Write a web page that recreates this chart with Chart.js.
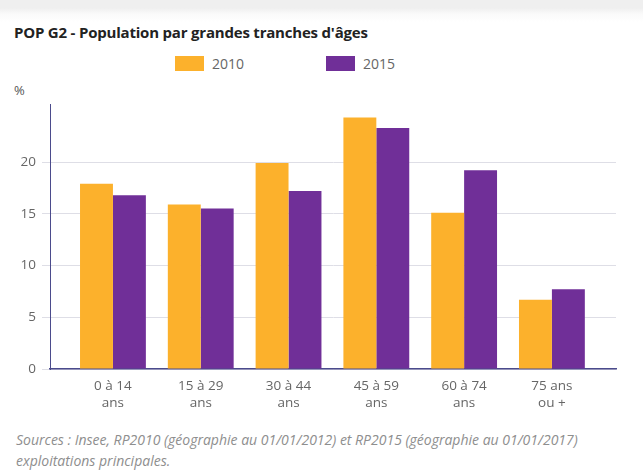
<!DOCTYPE html>
<html lang="fr">
<head>
<meta charset="utf-8">
<script src="https://cdn.jsdelivr.net/npm/chart.js@4/dist/chart.umd.min.js"></script>
<style>
    html, body {
        margin: 0;
        padding: 0;
        width: 643px;
        height: 475px;
        background: #fff;
        font-family: "Open Sans", sans-serif;
        overflow: hidden;
    }
    .top-band {
        position: absolute;
        left: 0; top: 0;
        width: 643px; height: 22px;
        background: linear-gradient(#efefef 0, #efefef 8px, #fafafa 14px, #fff 22px);
    }
    .titre {
        position: absolute;
        left: 14px; top: 22px;
        font-size: 15px;
        font-weight: 700;
        letter-spacing: -0.2px;
        color: #222;
        white-space: nowrap;
    }
    .legende {
        position: absolute;
        top: 54px;
        display: flex;
        align-items: center;
        font-size: 14px;
        color: #666;
    }
    .legende .boite {
        width: 29px; height: 15px;
        margin-right: 8px;
    }
    .unite {
        position: absolute;
        left: 14px; top: 81px;
        font-size: 13px;
        color: #555;
    }
    .sources {
        position: absolute;
        left: 16px; top: 429px;
        font-size: 14px;
        font-style: italic;
        line-height: 21px;
        color: #8e8e8e;
        white-space: nowrap;
    }
    #chartWrap {
        position: absolute;
        left: 0; top: 90px;
        width: 643px; height: 335px;
    }
</style>
</head>
<body>
<div class="top-band"></div>
<div class="titre">POP G2 - Population par grandes tranches d'âges</div>
<div class="legende" style="left:175px"><div class="boite" style="background:#fcb12c"></div>2010</div>
<div class="legende" style="left:326px"><div class="boite" style="background:#702f98"></div>2015</div>
<div class="unite">%</div>
<div id="chartWrap"><canvas id="popChart"></canvas></div>
<div class="sources">Sources : Insee, RP2010 (géographie au 01/01/2012) et RP2015 (géographie au 01/01/2017)<br>exploitations principales.</div>

<script>
// Tranches d'âges (libellés sur deux lignes)
const tranches = [
    ['0 à 14', 'ans'],
    ['15 à 29', 'ans'],
    ['30 à 44', 'ans'],
    ['45 à 59', 'ans'],
    ['60 à 74', 'ans'],
    ['75 ans', 'ou +']
];

// Part de la population (%)
const pop2010 = [17.9, 15.9, 19.9, 24.3, 15.1, 6.7];
const pop2015 = [16.8, 15.5, 17.2, 23.3, 19.2, 7.7];

// Graduations de l'axe vertical
const yTicks = [0, 5, 10, 15, 20];

const orange = '#fcb12c';
const violet = '#702f98';
const axisColor = '#4b4b8c';

// Points {x, y} pour une échelle linéaire sur l'axe des catégories
function toPoints(values) {
    return values.map((v, i) => ({ x: i, y: v }));
}

function initChart() {
    const ctx = document.getElementById('popChart').getContext('2d');
    new Chart(ctx, {
        type: 'bar',
        data: {
            datasets: [
                {
                    label: '2010',
                    data: toPoints(pop2010),
                    backgroundColor: orange,
                    categoryPercentage: 0.75,
                    barPercentage: 1.0
                },
                {
                    label: '2015',
                    data: toPoints(pop2015),
                    backgroundColor: violet,
                    categoryPercentage: 0.75,
                    barPercentage: 1.0
                }
            ]
        },
        options: {
            responsive: true,
            maintainAspectRatio: false,
            animation: false,
            layout: {
                padding: { top: 3, right: 27, left: 0, bottom: 0 }
            },
            plugins: {
                legend: { display: false },
                tooltip: { enabled: false }
            },
            scales: {
                x: {
                    type: 'linear',
                    offset: false,
                    min: -0.717,
                    max: 5.73,
                    grid: { display: false, drawTicks: false },
                    border: { display: true, color: axisColor, width: 1.5 },
                    afterBuildTicks: (scale) => {
                        scale.ticks = tranches.map((_, i) => ({ value: i }));
                    },
                    afterFit: (scale) => { scale.height = 56; },
                    ticks: {
                        autoSkip: false,
                        maxRotation: 0,
                        padding: 9,
                        color: '#666',
                        font: { family: 'Open Sans', size: 13.5, lineHeight: 1.25 },
                        callback: (value) => tranches[value] || ''
                    }
                },
                y: {
                    min: 0,
                    max: 25.6,
                    grid: { color: '#dedee6', tickLength: 8, lineWidth: 1 },
                    border: { display: true, color: axisColor, width: 1 },
                    afterBuildTicks: (scale) => {
                        scale.ticks = yTicks.map(v => ({ value: v }));
                    },
                    afterFit: (scale) => { scale.width = 50; },
                    ticks: {
                        padding: 6,
                        color: '#666',
                        font: { family: 'Open Sans', size: 13.5 }
                    }
                }
            }
        }
    });
}

document.addEventListener('DOMContentLoaded', initChart);
</script>
</body>
</html>
